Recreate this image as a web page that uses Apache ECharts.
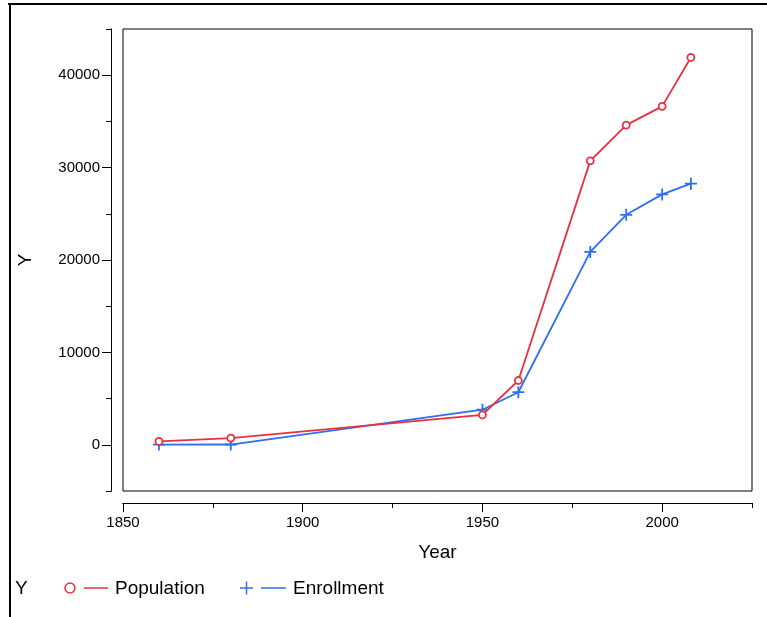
<!DOCTYPE html>
<html>
<head>
<meta charset="utf-8">
<script src="https://cdn.jsdelivr.net/npm/echarts@6/dist/echarts.min.js"></script>
<style>
html,body{margin:0;padding:0;background:#fff;}
#chart{width:767px;height:617px;}
</style>
</head>
<body>
<div id="chart"></div>
<script>
const years = [1860, 1880, 1950, 1960, 1980, 1990, 2000, 2008];
const population = [360, 730, 3230, 6960, 30730, 34600, 36630, 41920];
const enrollment = [20, 30, 3800, 5690, 20870, 24890, 27100, 28260];
const yMajorTicks = [0, 10000, 20000, 30000, 40000];
const yMinorTicks = [-5000, 5000, 15000, 25000, 35000, 45000];
const xMajorTicks = [1850, 1900, 1950, 2000];
const xMinorTicks = [1875, 1925, 1975, 2025];

const RED = '#E8303F';
const BLUE = '#2C6FF2';
const FONT = 'Liberation Sans, Arial, sans-serif';
const plusPath = 'path://M4.25,0h1.5v4.25h4.25v1.5h-4.25v4.25h-1.5v-4.25h-4.25v-1.5h4.25z';

const chart = echarts.init(document.getElementById('chart'), null, {renderer: 'canvas'});

const axisCommon = {
  type: 'value',
  splitLine: {show: false},
  axisLine: {show: true, onZero: false, lineStyle: {color: '#000', width: 1}},
};
const plain = v => String(v);

chart.setOption({
  animation: false,
  backgroundColor: '#fff',
  grid: {left: 123, top: 29, width: 629, height: 462, show: true, borderColor: '#000', borderWidth: 1, backgroundColor: 'transparent'},
  xAxis: [
    Object.assign({}, axisCommon, {
      min: 1850, max: 2025, position: 'bottom', offset: 12,
      name: 'Year', nameLocation: 'middle', nameGap: 40,
      nameTextStyle: {fontFamily: FONT, fontSize: 19, color: '#000'},
      axisTick: {show: true, length: 9, customValues: xMajorTicks, lineStyle: {color: '#000'}},
      axisLabel: {show: true, customValues: xMajorTicks, formatter: plain, margin: 12, fontFamily: FONT, fontSize: 15, color: '#000'}
    }),
    Object.assign({}, axisCommon, {
      min: 1850, max: 2025, position: 'bottom', offset: 12,
      axisTick: {show: true, length: 5, customValues: xMinorTicks, lineStyle: {color: '#000'}},
      axisLabel: {show: false}
    })
  ],
  yAxis: [
    Object.assign({}, axisCommon, {
      min: -5000, max: 45000, position: 'left', offset: 12,
      name: 'Y', nameLocation: 'middle', nameGap: 76, nameRotate: 90,
      nameTextStyle: {fontFamily: FONT, fontSize: 19, color: '#000'},
      axisTick: {show: true, length: 9, customValues: yMajorTicks, lineStyle: {color: '#000'}},
      axisLabel: {show: true, customValues: yMajorTicks, formatter: plain, margin: 11, fontFamily: FONT, fontSize: 15, color: '#000'}
    }),
    Object.assign({}, axisCommon, {
      min: -5000, max: 45000, position: 'left', offset: 12,
      axisTick: {show: true, length: 5, customValues: yMinorTicks, lineStyle: {color: '#000'}},
      axisLabel: {show: false}
    })
  ],
  series: [
    {
      name: 'Population', type: 'line', xAxisIndex: 0, yAxisIndex: 0,
      data: years.map((y, i) => [y, population[i]]),
      symbol: 'circle', symbolSize: 7,
      lineStyle: {color: RED, width: 1.8},
      itemStyle: {color: '#fff', borderColor: RED, borderWidth: 1.8},
      z: 3
    },
    {
      name: 'Enrollment', type: 'line', xAxisIndex: 0, yAxisIndex: 0,
      data: years.map((y, i) => [y, enrollment[i]]),
      symbol: plusPath, symbolSize: 12,
      lineStyle: {color: BLUE, width: 1.8},
      itemStyle: {color: BLUE, borderWidth: 0},
      z: 2
    }
  ],
  graphic: [
    {type: 'line', shape: {x1: 8, y1: 4, x2: 767, y2: 4}, style: {stroke: '#000', lineWidth: 2}},
    {type: 'line', shape: {x1: 10, y1: 3, x2: 10, y2: 617}, style: {stroke: '#000', lineWidth: 2}},
    {type: 'text', left: 15, top: 579, style: {text: 'Y', font: '19px ' + FONT, fill: '#000'}},
    {type: 'circle', shape: {cx: 70, cy: 588, r: 5}, style: {fill: '#fff', stroke: RED, lineWidth: 1.5}},
    {type: 'line', shape: {x1: 84, y1: 588, x2: 108, y2: 588}, style: {stroke: RED, lineWidth: 1.5}},
    {type: 'text', left: 115, top: 579, style: {text: 'Population', font: '19px ' + FONT, fill: '#000'}},
    {type: 'line', shape: {x1: 240, y1: 588, x2: 253, y2: 588}, style: {stroke: BLUE, lineWidth: 1.5}},
    {type: 'line', shape: {x1: 246.5, y1: 581.5, x2: 246.5, y2: 594.5}, style: {stroke: BLUE, lineWidth: 1.5}},
    {type: 'line', shape: {x1: 261, y1: 588, x2: 286, y2: 588}, style: {stroke: BLUE, lineWidth: 1.5}},
    {type: 'text', left: 293, top: 579, style: {text: 'Enrollment', font: '19px ' + FONT, fill: '#000'}}
  ]
});
</script>
</body>
</html>
